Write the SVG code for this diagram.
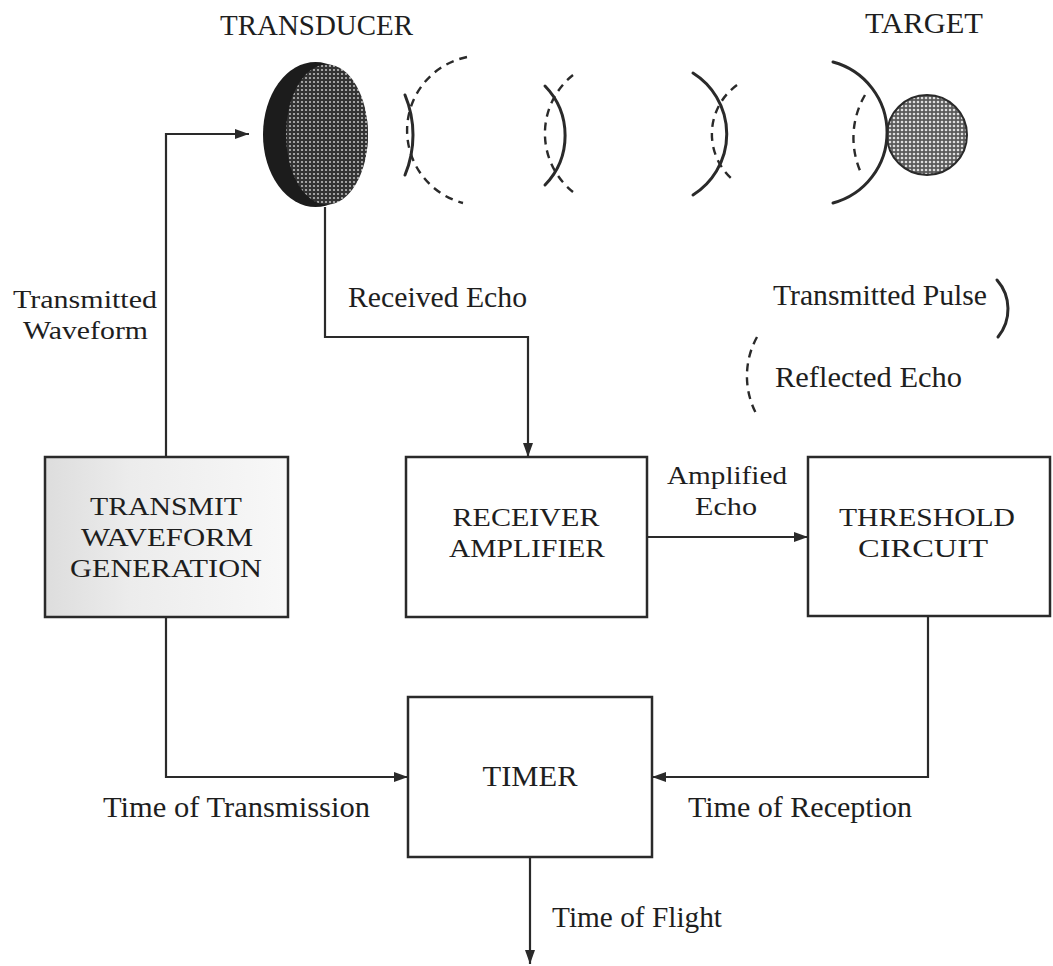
<svg xmlns="http://www.w3.org/2000/svg" width="1053" height="966" viewBox="0 0 1053 966">
  <style>
    text { font-family: "Liberation Serif", "Times New Roman", serif; fill: #1e1e1e; }
    .t30 { font-size: 30px; }
    .t26 { font-size: 26px; }
    .mid { text-anchor: middle; }
    .box { fill: #ffffff; stroke: #2a2a2a; stroke-width: 2.5; }
    .conn { fill: none; stroke: #2a2a2a; stroke-width: 2.2; }
    .pulse { fill: none; stroke: #2a2a2a; stroke-width: 3; stroke-linecap: round; }
    .echo { fill: none; stroke: #2a2a2a; stroke-width: 2.4; stroke-dasharray: 8 6; }
  </style>
  <defs>
    <pattern id="dotsDark" width="4" height="4" patternUnits="userSpaceOnUse">
      <rect width="4" height="4" fill="#333333"/>
      <circle cx="2" cy="2" r="1.1" fill="#bdbdbd"/>
    </pattern>
    <pattern id="dotsLight" width="4" height="4" patternUnits="userSpaceOnUse">
      <rect width="4" height="4" fill="#5a5a5a"/>
      <circle cx="2" cy="2" r="1.3" fill="#dddddd"/>
    </pattern>
    <linearGradient id="twgFill" x1="0" y1="0" x2="1" y2="0">
      <stop offset="0" stop-color="#dddddd"/>
      <stop offset="0.35" stop-color="#ececec"/>
      <stop offset="1" stop-color="#f8f8f8"/>
    </linearGradient>
    <marker id="arrow" markerWidth="14" markerHeight="10" refX="14" refY="5" orient="auto" markerUnits="userSpaceOnUse">
      <path d="M0,0 L14,5 L0,10 Z" fill="#2a2a2a"/>
    </marker>
  </defs>

  <rect width="1053" height="966" fill="#ffffff"/>

  <!-- Transducer -->
  <g id="transducer">
    <text class="t30" x="220" y="35" textLength="193" lengthAdjust="spacingAndGlyphs">TRANSDUCER</text>
    <ellipse cx="315.5" cy="134.5" rx="52.5" ry="72.5" fill="#1c1c1c"/>
    <ellipse cx="327" cy="134.5" rx="41" ry="70" fill="url(#dotsDark)"/>
  </g>

  <!-- Target -->
  <g id="target">
    <text class="t30" x="865" y="33" textLength="118" lengthAdjust="spacingAndGlyphs">TARGET</text>
    <circle cx="927" cy="135" r="40" fill="url(#dotsLight)" stroke="#2a2a2a" stroke-width="2"/>
  </g>

  <!-- Waves -->
  <g id="waves">
    <path class="pulse" d="M405,95 A104,104 0 0 1 405,175"/>
    <path class="echo" d="M467,57 A75,75 0 0 0 463,203"/>
    <path class="pulse" d="M545,86 A71,71 0 0 1 545,185"/>
    <path class="echo" d="M573,75 A75,75 0 0 0 573,192"/>
    <path class="pulse" d="M693,73 A72,72 0 0 1 693,195"/>
    <path class="echo" d="M737,85 A60.5,60.5 0 0 0 733,180"/>
    <path class="pulse" d="M833,62 A73,73 0 0 1 833,203"/>
    <path class="echo" d="M865,95 A85,85 0 0 0 862,175"/>
  </g>

  <!-- Legend -->
  <g id="legend">
    <text class="t30" x="773" y="305" textLength="214" lengthAdjust="spacingAndGlyphs">Transmitted Pulse</text>
    <path class="pulse" d="M997,280 A44,44 0 0 1 998,337"/>
    <path class="echo" d="M757,337 A81,81 0 0 0 758,417" stroke-dasharray="7 5"/>
    <text class="t30" x="775" y="387" textLength="187" lengthAdjust="spacingAndGlyphs">Reflected Echo</text>
  </g>

  <!-- Nodes -->
  <g id="transmit-waveform-generation">
    <rect x="45" y="457" width="243" height="160" fill="url(#twgFill)" stroke="#2a2a2a" stroke-width="2.5"/>
    <text class="t26 mid" x="166" y="515" textLength="152" lengthAdjust="spacingAndGlyphs">TRANSMIT</text>
    <text class="t26 mid" x="167" y="546" textLength="172" lengthAdjust="spacingAndGlyphs">WAVEFORM</text>
    <text class="t26 mid" x="166" y="577" textLength="192" lengthAdjust="spacingAndGlyphs">GENERATION</text>
  </g>

  <g id="receiver-amplifier">
    <rect class="box" x="406" y="457" width="241" height="160"/>
    <text class="t26 mid" x="526" y="526" textLength="147" lengthAdjust="spacingAndGlyphs">RECEIVER</text>
    <text class="t26 mid" x="527" y="557" textLength="156" lengthAdjust="spacingAndGlyphs">AMPLIFIER</text>
  </g>

  <g id="threshold-circuit">
    <rect class="box" x="808" y="457" width="242" height="159"/>
    <text class="t26 mid" x="927" y="526" textLength="176" lengthAdjust="spacingAndGlyphs">THRESHOLD</text>
    <text class="t26 mid" x="923" y="557" textLength="130" lengthAdjust="spacingAndGlyphs">CIRCUIT</text>
  </g>

  <g id="timer">
    <rect class="box" x="408" y="697" width="244" height="160"/>
    <text class="t30 mid" x="530" y="786" textLength="95" lengthAdjust="spacingAndGlyphs">TIMER</text>
  </g>

  <!-- Connectors -->
  <g id="connectors">
    <path class="conn" d="M166,457 V134 H249" marker-end="url(#arrow)"/>
    <path class="conn" d="M325,207 V337 H528 V457" marker-end="url(#arrow)"/>
    <path class="conn" d="M647,537 H808" marker-end="url(#arrow)"/>
    <path class="conn" d="M166,617 V777 H408" marker-end="url(#arrow)"/>
    <path class="conn" d="M928,616 V777 H652" marker-end="url(#arrow)"/>
    <path class="conn" d="M530,857 V964" marker-end="url(#arrow)"/>
  </g>

  <!-- Connector labels -->
  <g id="labels">
    <text class="t26" x="13" y="308" textLength="144" lengthAdjust="spacingAndGlyphs">Transmitted</text>
    <text class="t26" x="23" y="339" textLength="125" lengthAdjust="spacingAndGlyphs">Waveform</text>
    <text class="t30" x="348" y="307" textLength="179" lengthAdjust="spacingAndGlyphs">Received Echo</text>
    <text class="t26" x="667" y="484" textLength="120" lengthAdjust="spacingAndGlyphs">Amplified</text>
    <text class="t26" x="695" y="515" textLength="62" lengthAdjust="spacingAndGlyphs">Echo</text>
    <text class="t30" x="103" y="817" textLength="267" lengthAdjust="spacingAndGlyphs">Time of Transmission</text>
    <text class="t30" x="688" y="817" textLength="224" lengthAdjust="spacingAndGlyphs">Time of Reception</text>
    <text class="t30" x="552" y="927" textLength="170" lengthAdjust="spacingAndGlyphs">Time of Flight</text>
  </g>
</svg>
